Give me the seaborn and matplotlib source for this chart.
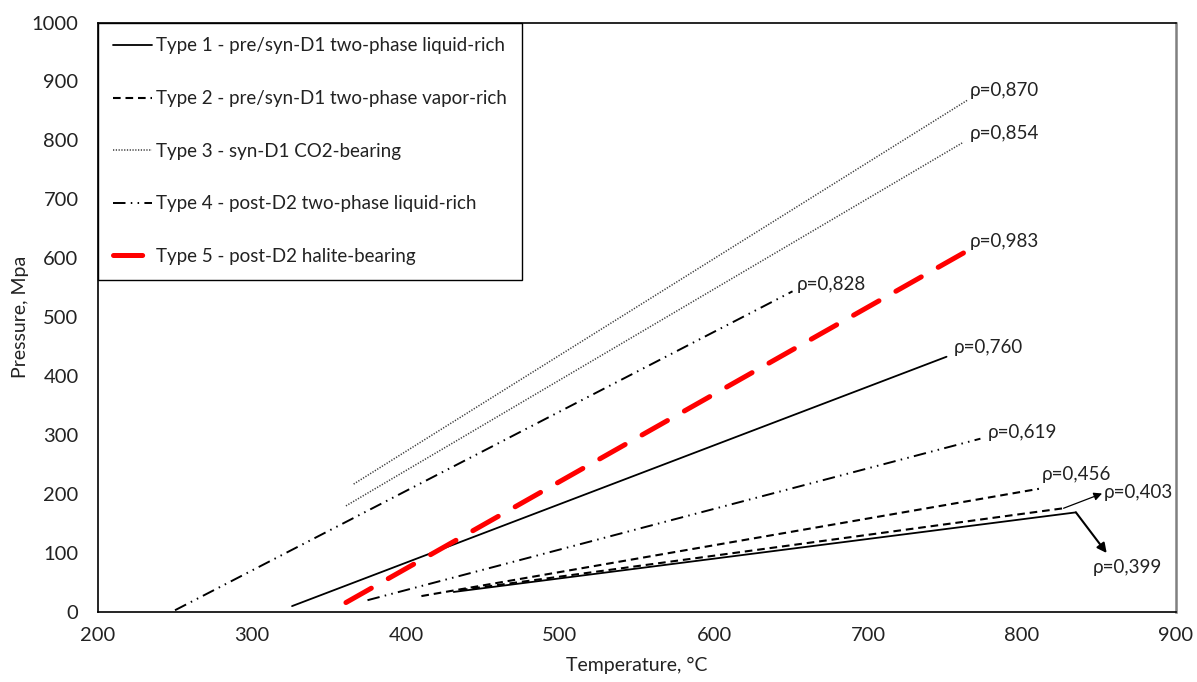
import matplotlib
matplotlib.use("Agg")
import matplotlib.pyplot as plt
import seaborn as sns
import pandas as pd

sns.set_theme(style="white")
plt.rcParams["font.family"] = ["Lato", "DejaVu Sans"]
plt.rcParams["lines.scale_dashes"] = False

# Isochores: start and end (temperature °C, pressure MPa) per fluid inclusion density
labels = ["ρ=0,760", "ρ=0,399", "ρ=0,456", "ρ=0,403", "ρ=0,870", "ρ=0,854",
          "ρ=0,828", "ρ=0,619", "ρ=0,983"]
types = [1, 1, 2, 2, 3, 3, 4, 4, 5]
t_start = [326, 431, 410, 435, 366, 361, 250, 375, 361]
t_end = [751, 835, 811, 827, 765, 762, 651, 773, 762]
p_start = [10, 34, 27, 37, 217, 180, 3, 20, 16]
p_end = [433, 169, 209, 176, 869, 797, 544, 294, 609]

# Density label anchors (left-centre of text)
label_t = [756, 846, 813, 853, 766, 766, 654, 778, 766]
label_p = [449, 76, 234, 203, 885, 812, 555, 305, 628]

type_names = {
    1: "Type 1 - pre/syn-D1 two-phase liquid-rich",
    2: "Type 2 - pre/syn-D1 two-phase vapor-rich",
    3: "Type 3 - syn-D1 CO2-bearing",
    4: "Type 4 - post-D2 two-phase liquid-rich",
    5: "Type 5 - post-D2 halite-bearing",
}
type_styles = {
    1: dict(color="black", linewidth=1.3, linestyle="-"),
    2: dict(color="black", linewidth=1.5, linestyle=(0, (5.5, 3.5))),
    3: dict(color="#3c3c3c", linewidth=1.1, linestyle=(0, (0.9, 1.1))),
    4: dict(color="black", linewidth=1.4,
            linestyle=(0, (9.0, 3.8, 1.1, 3.8, 1.1, 3.8))),
    5: dict(color="#ff0000", linewidth=3.6, linestyle=(0, (21.0, 14.0)),
            dash_capstyle="round"),
}

fig = plt.figure(figsize=(11.97, 6.82), dpi=100)
ax = fig.add_axes([98 / 1197, 70 / 682, 1078 / 1197, 589.5 / 682])

handles = {}
for i in range(len(labels)):
    df = pd.DataFrame({"T": [t_start[i], t_end[i]], "P": [p_start[i], p_end[i]]})
    k = types[i]
    sns.lineplot(data=df, x="T", y="P", ax=ax, sort=False, **type_styles[k])
    handles.setdefault(k, ax.lines[-1])

text_kw = dict(fontsize=13.5, color="#222222", va="center", ha="left")
for i, lab in enumerate(labels):
    ax.text(label_t[i], label_p[i], lab, **text_kw)

# Arrows from line ends to the crowded labels
ax.annotate("", xy=(852, 201), xytext=(t_end[3], p_end[3]),
            arrowprops=dict(arrowstyle="-|>", color="black", lw=0.9,
                            mutation_scale=12, shrinkA=0, shrinkB=0))
ax.annotate("", xy=(855, 100), xytext=(t_end[1], p_end[1]),
            arrowprops=dict(arrowstyle="-|>", color="black", lw=1.5,
                            mutation_scale=14, shrinkA=0, shrinkB=0))

ax.set_xlim(200, 900)
ax.set_ylim(0, 1000)
ax.set_xticks(range(200, 901, 100))
ax.set_yticks(range(0, 1001, 100))
ax.tick_params(axis="both", length=0, labelsize=14.5, labelcolor="#222222")
ax.tick_params(axis="y", pad=14)
ax.tick_params(axis="x", pad=11)
ax.set_xlabel("Temperature, °C", fontsize=14, color="#222222", labelpad=9)
ax.set_ylabel("Pressure, Mpa", fontsize=14, color="#222222", labelpad=2)

for side in ["left", "bottom", "top"]:
    ax.spines[side].set_color("black")
    ax.spines[side].set_linewidth(1.2)
ax.spines["right"].set_color("#808080")
ax.spines["right"].set_linewidth(1.8)

leg = ax.legend([handles[k] for k in sorted(handles)],
                [type_names[k] for k in sorted(handles)],
                loc="upper left", bbox_to_anchor=(0, 1), borderaxespad=0,
                fontsize=13.5, frameon=True, fancybox=False, framealpha=1,
                edgecolor="black", handlelength=2.1, handletextpad=0.2,
                labelspacing=1.9, borderpad=0.8)
leg.get_frame().set_linewidth(1.0)
for t in leg.get_texts():
    t.set_color("#222222")

fig.savefig("out.png", dpi=100)
